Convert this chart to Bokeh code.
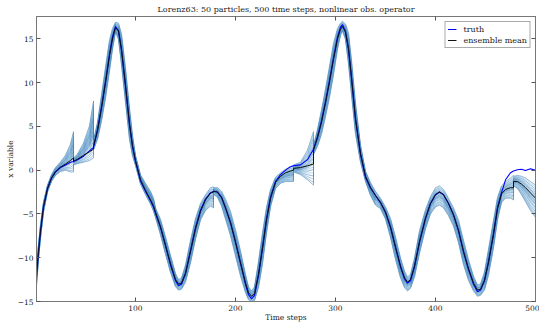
import numpy as np
from bokeh.plotting import figure
from bokeh.models import LinearAxis, Range1d, FixedTicker, Legend, LegendItem
from bokeh.embed import file_html
from bokeh.resources import INLINE

# ---- data ----
time_steps = [1, 3, 5, 8, 12, 16, 20, 25, 30, 35, 38, 38, 42, 48, 54, 58, 58, 62, 66, 70,
              74, 77, 80, 83, 86, 90, 94, 97, 100, 105, 110, 115, 118, 120, 125, 130, 135, 140, 143, 146,
              150, 155, 160, 165, 170, 175, 178, 178, 182, 186, 190, 195, 200, 205, 210, 213, 216, 219, 223, 227,
              231, 235, 240, 245, 250, 255, 258, 258, 265, 272, 278, 278, 282, 286, 290, 294, 298, 302, 305, 307,
              310, 313, 316, 320, 325, 330, 335, 340, 345, 350, 355, 360, 365, 369, 372, 375, 379, 384, 390, 395,
              400, 404, 408, 413, 418, 423, 428, 433, 438, 442, 445, 449, 453, 458, 462, 466, 470, 475, 478, 478,
              482, 486, 490, 495, 500]

truth = [-12.2, -9.4, -7.0, -4.2, -2.1, -0.9, -0.2, 0.3, 0.6, 0.9, 1.0, 1.0, 1.2, 1.6, 2.2, 2.6, 2.6, 4.6, 7.2, 10.1,
         13.2, 15.2, 16.4, 15.9, 13.7, 9.6, 5.2, 2.7, 1.0, -1.2, -2.4, -3.5, -4.2, -4.9, -6.5, -8.6, -10.8, -12.6, -13.2, -13.0,
         -11.8, -9.2, -6.6, -4.6, -3.3, -2.6, -2.4, -2.4, -2.5, -3.1, -4.3, -6.0, -8.2, -10.6, -13.0, -14.2, -14.7, -14.3, -12.0, -8.9,
         -5.6, -3.1, -1.3, -0.5, 0.0, 0.4, 0.5, 0.5, 0.6, 1.2, 2.4, 2.4, 3.8, 5.6, 7.8, 10.2, 12.8, 15.2, 16.3, 16.6,
         15.8, 13.8, 10.5, 5.8, 1.8, -0.8, -2.0, -2.9, -3.7, -4.8, -6.5, -8.8, -11.0, -12.4, -12.9, -12.6, -11.0, -8.2, -5.5, -3.8,
         -2.8, -2.5, -2.8, -3.8, -5.1, -6.9, -9.3, -11.3, -13.0, -13.9, -13.7, -12.6, -10.5, -7.3, -4.3, -2.6, -1.1, -0.3, -0.1, -0.1,
         0.05, 0.1, -0.05, 0.15, 0.0]

ens_mean = [-12.0, -9.3, -7.0, -4.2, -2.1, -0.9, -0.2, 0.35, 0.7, 1.1, 1.4, 1.0, 1.25, 1.7, 2.1, 2.4, 2.8, 4.5, 7.1, 10.0,
            13.1, 15.0, 16.3, 15.9, 13.8, 9.7, 5.3, 2.8, 1.1, -1.1, -2.3, -3.4, -4.1, -4.8, -6.5, -8.6, -10.7, -12.5, -13.0, -12.9,
            -11.8, -9.3, -6.7, -4.7, -3.4, -2.6, -2.5, -2.4, -2.5, -3.1, -4.3, -6.0, -8.2, -10.6, -12.9, -14.0, -14.4, -14.1, -11.9, -8.9,
            -5.7, -3.2, -1.4, -0.7, -0.3, -0.1, 0.0, 0.2, 0.3, 0.5, 0.7, 2.3, 3.7, 5.5, 7.7, 10.1, 12.7, 15.0, 16.1, 16.4,
            15.8, 13.9, 10.6, 5.9, 1.9, -0.7, -2.0, -2.9, -3.7, -4.8, -6.5, -8.8, -11.0, -12.3, -12.8, -12.5, -11.0, -8.2, -5.5, -3.8,
            -2.8, -2.5, -2.8, -3.8, -5.1, -6.9, -9.3, -11.3, -12.9, -13.7, -13.6, -12.6, -10.5, -7.3, -4.4, -2.7, -2.2, -2.0, -2.0, -1.3,
            -1.3, -1.6, -2.0, -2.6, -3.2]

# spread of the particle cloud below / above the ensemble mean
spread_low = [-1.2, -0.9, -0.8, -0.6, -0.4, -0.4, -0.4, -0.5, -0.7, -1.3, -1.6, -0.4, -0.5, -0.8, -1.0, -1.0, -0.5, -1.0, -1.5, -1.8,
              -1.8, -1.2, -0.5, -1.0, -1.8, -2.0, -1.8, -1.2, -0.6, -0.5, -0.5, -0.5, -0.6, -0.6, -0.9, -1.0, -1.0, -0.8, -0.7, -0.7,
              -1.0, -1.3, -1.2, -1.0, -1.2, -1.5, -1.8, -0.4, -0.6, -1.0, -1.3, -1.5, -1.6, -1.5, -1.1, -0.8, -0.6, -0.8, -1.5, -1.8,
              -1.5, -1.0, -0.7, -0.8, -1.0, -1.2, -1.3, -0.4, -0.8, -1.6, -2.4, -0.5, -1.0, -1.4, -1.6, -1.8, -1.8, -1.2, -0.7, -0.5,
              -0.9, -1.8, -2.0, -1.8, -1.0, -0.6, -0.9, -1.1, -0.7, -0.8, -1.2, -1.4, -1.3, -1.1, -1.0, -1.0, -1.2, -1.3, -1.2, -1.2,
              -1.4, -1.5, -1.5, -1.4, -1.3, -1.4, -1.5, -1.3, -0.9, -0.7, -0.7, -1.1, -1.5, -1.6, -1.3, -1.0, -1.0, -1.2, -1.4, -0.5,
              -0.8, -1.2, -1.6, -2.0, -2.2]

spread_high = [1.0, 0.9, 0.8, 0.6, 0.4, 0.4, 0.5, 0.6, 1.0, 1.9, 3.0, 0.4, 0.6, 1.4, 3.0, 5.5, 0.6, 1.0, 1.5, 1.8,
               1.8, 1.2, 0.6, 0.9, 1.8, 2.0, 1.8, 1.2, 0.6, 0.6, 0.8, 1.0, 0.9, 0.5, 0.9, 1.0, 1.0, 0.7, 0.5, 0.6,
               1.0, 1.3, 1.2, 0.9, 0.6, 0.6, 0.6, 0.4, 0.5, 0.7, 1.0, 1.3, 1.4, 1.4, 1.0, 0.7, 0.6, 0.8, 1.5, 1.8,
               1.5, 1.0, 0.6, 0.4, 0.4, 0.5, 0.5, 0.4, 0.6, 1.8, 3.7, 0.5, 1.0, 1.4, 1.6, 1.8, 1.8, 1.2, 0.7, 0.6,
               0.9, 1.8, 2.0, 1.8, 1.0, 0.6, 0.6, 0.5, 0.5, 0.6, 1.0, 1.2, 1.0, 0.8, 0.6, 0.6, 1.0, 1.3, 1.0, 0.8,
               0.8, 0.7, 0.6, 0.6, 0.8, 1.2, 1.3, 1.1, 0.8, 0.6, 0.6, 1.0, 1.5, 1.6, 1.3, 0.9, 0.9, 1.1, 1.4, 0.6,
               0.7, 0.9, 1.1, 1.3, 1.5]

# relative position of each drawn particle inside the cloud (0 = lowest, 1 = highest)
particle_frac = [0.0, 0.05, 0.11, 0.17, 0.23, 0.29, 0.34, 0.39, 0.43, 0.47, 0.5, 0.53,
                 0.56, 0.6, 0.64, 0.68, 0.72, 0.77, 0.82, 0.88, 0.94, 1.0]

x_ticks = [100, 200, 300, 400, 500]
y_ticks = [-15, -10, -5, 0, 5, 10, 15]

title_text = "Lorenz63: 50 particles, 500 time steps, nonlinear obs. operator"
x_label = "Time steps"
y_label = "x variable"

# ---- figure ----
SERIF = "DejaVu Serif"
p = figure(width=539, height=327, output_backend="svg", toolbar_location=None,
           x_range=Range1d(1, 500), y_range=Range1d(-15, 17.55),
           min_border_left=36, min_border_right=4, min_border_top=16, min_border_bottom=26)
p.background_fill_color = "white"
p.border_fill_color = "white"
p.outline_line_color = "#777777"
p.xgrid.visible = False
p.ygrid.visible = False

p.title.text = title_text
p.title.align = "center"
p.title.text_font = SERIF
p.title.text_font_size = "8px"
p.title.text_font_style = "normal"
p.title.text_color = "#222222"
p.title.standoff = 5

t = np.array(time_steps, dtype=float)
m = np.array(ens_mean, dtype=float)
lo = m + np.array(spread_low)
hi = m + np.array(spread_high)

palette = ["#2b6ca8", "#4a8cc4", "#5b9ccb", "#3a7fbb", "#74b6d8", "#2f74b0", "#64a8d2", "#4b8fc4"]
xs, ys, cols = [], [], []
for i, f in enumerate(particle_frac):
    xs.append(t)
    ys.append(lo + f * (hi - lo))
    cols.append(palette[i % len(palette)])
p.multi_line(xs=xs, ys=ys, line_color=cols, line_alpha=0.65, line_width=0.8)

r_truth = p.line(t, truth, line_color="#0000ff", line_width=1.1)
r_mean = p.line(t, ens_mean, line_color="#111111", line_width=1.0)

legend = Legend(items=[LegendItem(label="truth", renderers=[r_truth]),
                       LegendItem(label="ensemble mean", renderers=[r_mean])],
                location="top_right", label_text_font=SERIF, label_text_font_size="8px",
                label_text_color="#222222", glyph_width=9, glyph_height=10, label_height=10,
                label_standoff=7, spacing=1, padding=2, margin=5,
                border_line_color="#555555", border_line_width=1, background_fill_alpha=1)
p.add_layout(legend)


def style_axis(ax, ticks, labels=True):
    ax.ticker = FixedTicker(ticks=ticks)
    ax.major_tick_in = 4
    ax.major_tick_out = 0
    ax.minor_tick_in = 0
    ax.minor_tick_out = 0
    ax.major_tick_line_color = "#555555"
    ax.axis_line_color = "#777777"
    ax.major_label_text_font = SERIF
    ax.major_label_text_font_size = "7.5px"
    ax.major_label_text_color = "#222222"
    ax.major_label_standoff = 3
    ax.axis_label_text_font = SERIF
    ax.axis_label_text_font_size = "7.5px"
    ax.axis_label_text_font_style = "normal"
    ax.axis_label_text_color = "#222222"
    if not labels:
        ax.major_label_standoff = 0
        ax.major_label_overrides = {v: "" for v in ticks}


p.xaxis.axis_label = x_label
p.yaxis.axis_label = y_label
p.xaxis.axis_label_standoff = -1
p.yaxis.axis_label_standoff = 0

p.add_layout(LinearAxis(), "above")
p.add_layout(LinearAxis(), "right")
for ax in p.below:
    style_axis(ax, x_ticks, True)
for ax in p.left:
    style_axis(ax, y_ticks, True)
for ax in p.above:
    style_axis(ax, x_ticks, False)
for ax in p.right:
    style_axis(ax, y_ticks, False)

open("out.html", "w").write(file_html(p, INLINE))
